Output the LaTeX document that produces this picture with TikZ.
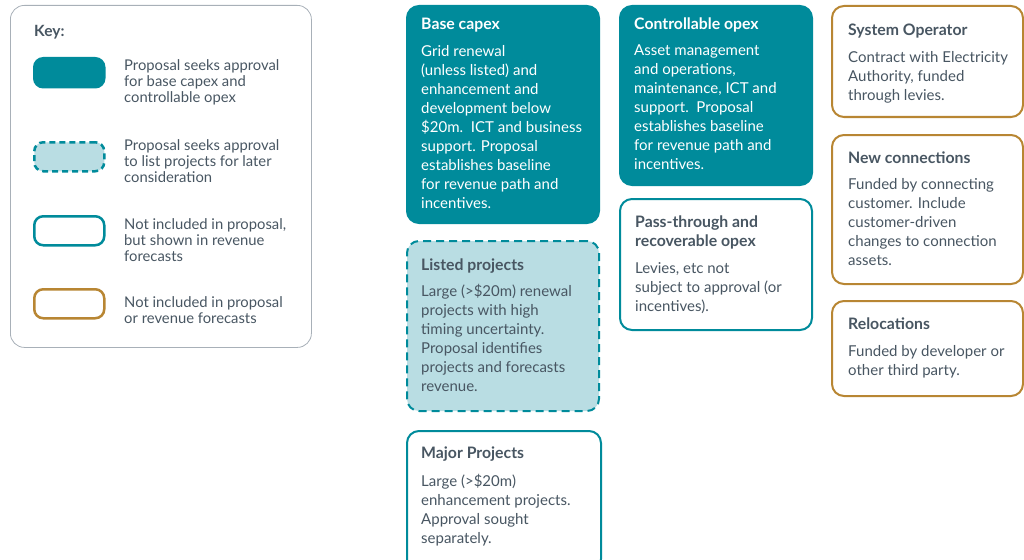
\documentclass[tikz,border=0pt]{standalone}
\usepackage{fontspec}
\setmainfont{Lato}
\usetikzlibrary{positioning}

\definecolor{teal}{RGB}{0,139,155}
\definecolor{lightteal}{RGB}{185,221,227}
\definecolor{gold}{RGB}{184,134,51}
\definecolor{ink}{RGB}{72,86,98}
\definecolor{keyline}{RGB}{168,176,184}

\begin{document}
\begin{tikzpicture}[
    x=1pt, y=-1pt,
    box/.style={rounded corners=12pt, line width=2pt, anchor=north west,
      minimum width=192pt, inner sep=0pt}, % base shape of every category box
    solidbox/.style={box, draw=teal, fill=teal},
    listbox/.style={box, draw=teal, fill=lightteal, dash pattern=on 8pt off 5pt},
    revbox/.style={box, draw=teal, fill=white},
    outbox/.style={box, draw=gold, fill=white},
    swatch/.style={rounded corners=9pt, line width=2.5pt, anchor=north west,
      minimum width=70pt, minimum height=29pt, inner sep=0pt}, % key samples
    head/.style={font=\bfseries\fontsize{15.8}{19}\selectfont, text=ink,
      align=left, anchor=north west, inner sep=0pt}, % box titles
    body/.style={font=\fontsize{15}{19}\selectfont, text=ink,
      align=left, anchor=north west, inner sep=0pt}, % box descriptions
    keytext/.style={font=\fontsize{14.8}{16}\selectfont, text=ink,
      align=left, anchor=west, inner sep=0pt}
]
    \useasboundingbox (0,0) rectangle (1024,559);

    % Key
    \node[draw=keyline, line width=0.8pt, rounded corners=14pt, anchor=north west,
      minimum width=301pt, minimum height=342pt, inner sep=0pt] (key) at (10,5) {};
    \node[font=\bfseries\fontsize{15.5}{16}\selectfont, text=ink, anchor=west,
      inner sep=0pt] (keyT) at (34,32) {Key:};

    \node[swatch, draw=teal, fill=teal] (swA) at (33,57) {};
    \node[swatch, draw=teal, fill=lightteal, dash pattern=on 6pt off 4pt] (swB) at (33,141) {};
    \node[swatch, draw=teal, fill=white] (swC) at (33,215) {};
    \node[swatch, draw=gold, fill=white] (swD) at (33,288) {};

    \node[keytext] (keyA) at (124,82) {Proposal seeks approval\\for base capex and\\controllable opex};
    \node[keytext] (keyB) at (124,161) {Proposal seeks approval\\to list projects for later\\consideration};
    \node[keytext] (keyC) at (124,240) {Not included in proposal,\\but shown in revenue\\forecasts};
    \node[keytext] (keyD) at (124,310) {Not included in proposal\\or revenue forecasts};

    % Capex column
    \node[solidbox, minimum height=217pt] (base) at (406,5) {};
    \node[head, text=white] (baseT) at (421,18) {Base capex};
    \node[body, text=white] (baseB) at (421,45) {Grid renewal\\(unless listed) and\\enhancement and\\development below\\\$20m.\ \ ICT and business\\support. Proposal\\establishes baseline\\for revenue path and\\incentives.};

    \node[listbox, minimum height=170pt] (listed) at (406,240) {};
    \node[head] (listedT) at (421,259) {Listed projects};
    \node[body] (listedB) at (421,284) {Large (>\$20m) renewal\\projects with high\\timing uncertainty.\\Proposal identifies\\projects and forecasts\\revenue.};

    \node[revbox, minimum width=194pt, minimum height=140pt] (major) at (406,430) {};
    \node[head] (majorT) at (421,447) {Major Projects};
    \node[body] (majorB) at (421,474) {Large (>\$20m)\\enhancement projects.\\Approval sought\\separately.};

    % Opex column
    \node[solidbox, minimum height=179pt] (ctrl) at (619,5) {};
    \node[head, text=white] (ctrlT) at (634,18) {Controllable opex};
    \node[body, text=white] (ctrlB) at (634,45) {Asset management\\and operations,\\maintenance, ICT and\\support.\ \ Proposal\\establishes baseline\\for revenue path and\\incentives.};

    \node[revbox, minimum height=131pt] (pass) at (619,198) {};
    \node[head] (passT) at (635,216) {Pass-through and\\recoverable opex};
    \node[body] (passB) at (635,262) {Levies, etc not\\subject to approval (or\\incentives).};

    % Items outside the proposal
    \node[outbox, minimum width=191pt, minimum height=111pt] (sysop) at (831,5) {};
    \node[head] (sysopT) at (848,24) {System Operator};
    \node[body] (sysopB) at (848,51) {Contract with Electricity\\Authority, funded\\through levies.};

    \node[outbox, minimum width=191pt, minimum height=149pt] (conn) at (831,134) {};
    \node[head] (connT) at (848,152) {New connections};
    \node[body] (connB) at (848,178) {Funded by connecting\\customer. Include\\customer-driven\\changes to connection\\assets.};

    \node[outbox, minimum width=191pt, minimum height=95pt] (reloc) at (831,300) {};
    \node[head] (relocT) at (848,318) {Relocations};
    \node[body] (relocB) at (848,345) {Funded by developer or\\other third party.};
\end{tikzpicture}
\end{document}
